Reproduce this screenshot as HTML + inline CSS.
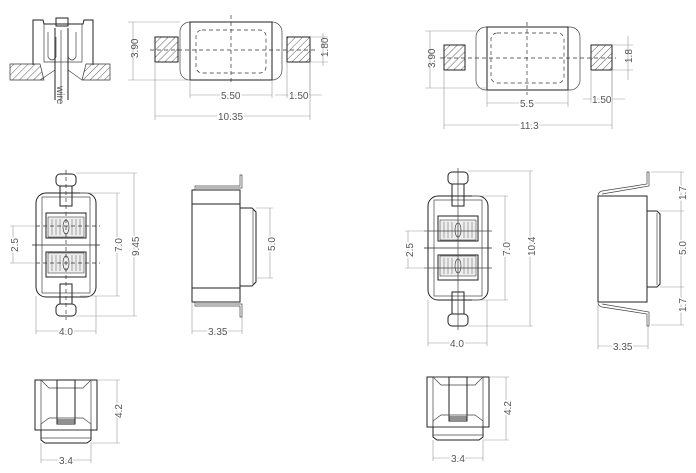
<!DOCTYPE html>
<html><head><meta charset="utf-8"><style>
html,body{margin:0;padding:0;background:#fff;}
svg{display:block}
text{font-family:"Liberation Sans",sans-serif;font-size:10px;fill:#555}
.o{fill:none;stroke:#222;stroke-width:1}
.t{fill:none;stroke:#444;stroke-width:.7}
.d{fill:none;stroke:#999;stroke-width:.6}
.c{fill:none;stroke:#333;stroke-width:.7;stroke-dasharray:4 3}
</style></head><body>
<svg width="696" height="473" viewBox="0 0 696 473" xmlns="http://www.w3.org/2000/svg">
<defs>
<pattern id="h" width="5" height="5" patternUnits="userSpaceOnUse" patternTransform="rotate(45)"><line x1="0" y1="0" x2="0" y2="5" stroke="#333" stroke-width=".8"/></pattern>
<g id="front">
 <rect x="0" y="0" width="62" height="50" class="o"/>
 <rect x="6" y="0" width="50" height="50" class="t"/>
 <path d="M6 0 L14 8 H48 L56 0" class="t"/>
 <rect x="22" y="0" width="18" height="42" class="o"/>
 <path d="M6 50 V44 L14 38 H48 L56 44 V50" class="t"/>
 <rect x="22" y="40" width="18" height="4" class="o"/>
 <path d="M6 50 V60 L10 63 H52 L56 60 V50" class="o"/>
 <line x1="6" y1="58" x2="56" y2="58" class="t"/>
</g>
<g id="mid">
 <rect x="0" y="0" width="60" height="104" rx="10" class="o"/>
 <rect x="6" y="4" width="48" height="96" class="t"/>
 <rect x="10" y="20" width="40" height="25" class="o"/>
 <rect x="12" y="24" width="36" height="20" fill="#eee" stroke="#444" stroke-width=".6"/>
 <rect x="10" y="59" width="40" height="25" class="o"/>
 <rect x="12" y="60" width="36" height="20" fill="#eee" stroke="#444" stroke-width=".6"/>
 <path d="M16 26v16M20 26v16M24 26v16M36 26v16M40 26v16M44 26v16M16 62v16M20 62v16M24 62v16M36 62v16M40 62v16M44 62v16" stroke="#555" stroke-width=".5"/>
 <ellipse cx="30" cy="34" rx="3" ry="7" class="t"/><ellipse cx="30" cy="70" rx="3" ry="7" class="t"/>
 <line x1="-4" y1="52" x2="64" y2="52" stroke="#222" stroke-width=".8"/>
</g>
</defs>

<!-- top-left cross section -->
<path d="M33 65 V20 H43 L44 24 H83 L84 20 H93 V65" class="o"/>
<path d="M44 24 V62 H82 V24" class="t"/>
<rect x="56" y="18" width="12" height="8" class="o"/>
<path d="M48 32 v25 q4 6 8 0 v-20 M68 37 v20 q4 6 8 0 v-25" class="t"/>
<path d="M10 64 H40 L44 80 H10 Z" fill="url(#h)" stroke="#333" stroke-width=".7"/>
<path d="M86 64 H110 V80 H82 Z" fill="url(#h)" stroke="#333" stroke-width=".7"/>
<path d="M40 80 L55 70 M82 80 L68 70" class="t"/>
<path d="M55 28 V100 M68 28 V100" class="o"/><line x1="61" y1="30" x2="61" y2="100" class="t"/>
<text transform="translate(57,86) rotate(90)" font-size="8" fill="#333">wire</text>

<!-- top view 1 -->
<rect x="180" y="22" width="102" height="58" rx="10" class="t"/>
<rect x="190" y="22" width="82" height="58" class="o"/>
<rect x="196" y="30" width="70" height="43" rx="6" class="c"/>
<rect x="155" y="37" width="23" height="25" fill="url(#h)" stroke="#222"/>
<rect x="287" y="37" width="23" height="25" fill="url(#h)" stroke="#222"/>
<line x1="150" y1="50" x2="315" y2="50" class="c"/><line x1="231" y1="15" x2="231" y2="85" class="c"/>
<path d="M133 22V80M128 22H180M128 80H190" class="d"/><text transform="translate(138,58) rotate(-90)">3.90</text>
<path d="M323 33V66M310 37H328M310 62H328" class="d"/><text transform="translate(328,57) rotate(-90)">1.80</text>
<path d="M190 95H272M190 80V98M272 80V98" class="d"/><text x="221" y="99" fill="#fff" style="fill:#555;paint-order:stroke;stroke:#fff;stroke-width:3">5.50</text>
<path d="M275 95H322M287 62V98M310 62V98" class="d"/><text x="289" y="99" style="paint-order:stroke;stroke:#fff;stroke-width:3">1.50</text>
<path d="M155 116H310M155 62V120M310 62V120" class="d"/><text x="218" y="120" style="paint-order:stroke;stroke:#fff;stroke-width:3">10.35</text>

<!-- top view 2 -->
<rect x="476" y="27" width="104" height="63" rx="10" class="t"/>
<rect x="487" y="27" width="81" height="63" class="o"/>
<rect x="491" y="33" width="73" height="50" rx="6" class="c"/>
<rect x="444" y="45" width="21" height="25" fill="url(#h)" stroke="#222"/>
<rect x="591" y="45" width="21" height="25" fill="url(#h)" stroke="#222"/>
<line x1="440" y1="58" x2="616" y2="58" class="c"/><line x1="527" y1="22" x2="527" y2="95" class="c"/>
<path d="M430 31V88M425 31H480M425 88H487" class="d"/><text transform="translate(435,68) rotate(-90)">3.90</text>
<path d="M628 36V80M612 45H633M612 70H633" class="d"/><text transform="translate(632,63) rotate(-90)">1.8</text>
<path d="M487 103H568M487 90V107M568 90V107" class="d"/><text x="520" y="107" style="paint-order:stroke;stroke:#fff;stroke-width:3">5.5</text>
<path d="M583 99H625M591 70V103M612 70V103" class="d"/><text x="592" y="103" style="paint-order:stroke;stroke:#fff;stroke-width:3">1.50</text>
<path d="M444 125H612M444 70V129M612 70V129" class="d"/><text x="520" y="129" style="paint-order:stroke;stroke:#fff;stroke-width:3">11.3</text>

<!-- middle left -->
<use href="#mid" x="36" y="193"/>
<rect x="56" y="174" width="20" height="12" rx="4" class="o"/><rect x="60" y="186" width="12" height="20" class="o"/>
<rect x="56" y="304" width="20" height="12" rx="4" class="o"/><rect x="60" y="284" width="12" height="20" class="o"/>
<line x1="66" y1="170" x2="66" y2="320" class="c"/>
<line x1="36" y1="226" x2="100" y2="226" class="c"/><line x1="36" y1="263" x2="100" y2="263" class="c"/>
<path d="M13 226V263M10 226H36M10 263H36" class="d"/><text transform="translate(18,252) rotate(-90)" style="paint-order:stroke;stroke:#fff;stroke-width:3">2.5</text>
<path d="M117 193V296M80 193H120M80 296H120" class="d"/><text transform="translate(122,252) rotate(-90)" style="paint-order:stroke;stroke:#fff;stroke-width:3">7.0</text>
<path d="M134 173V316M76 173H137M76 316H137" class="d"/><text transform="translate(139,256) rotate(-90)" style="paint-order:stroke;stroke:#fff;stroke-width:3">9.45</text>
<path d="M36 331H96M36 296V334M96 296V334" class="d"/><text x="59" y="335" style="paint-order:stroke;stroke:#fff;stroke-width:3">4.0</text>

<!-- side 1 -->
<rect x="192" y="190" width="48" height="112" class="o"/>
<path d="M192 204H240M192 288H240" class="o"/>
<path d="M240 208H252L256 212V282L252 286H240" class="o"/><line x1="253" y1="210" x2="253" y2="284" class="t"/>
<path d="M195 190V186H240V175H242V188H196" class="t"/>
<path d="M195 302V306H240V317H242V304H196" class="t"/>
<path d="M270 208V278M256 208H273M256 278H273" class="d"/><text transform="translate(275,251) rotate(-90)" style="paint-order:stroke;stroke:#fff;stroke-width:3">5.0</text>
<path d="M192 331H242M192 302V334M242 317V334" class="d"/><text x="208" y="335" style="paint-order:stroke;stroke:#fff;stroke-width:3">3.35</text>

<!-- middle right -->
<use href="#mid" x="428" y="196"/>
<rect x="448" y="172" width="20" height="12" rx="4" class="o"/><rect x="452" y="184" width="12" height="22" class="o"/>
<rect x="448" y="314" width="20" height="12" rx="4" class="o"/><rect x="452" y="292" width="12" height="22" class="o"/>
<line x1="458" y1="168" x2="458" y2="330" class="t"/>
<line x1="424" y1="231" x2="492" y2="231" class="t"/><line x1="424" y1="268" x2="492" y2="268" class="t"/>
<path d="M408 231V268M405 231H428M405 268H428" class="d"/><text transform="translate(413,257) rotate(-90)" style="paint-order:stroke;stroke:#fff;stroke-width:3">2.5</text>
<path d="M505 196V300M472 196H508M472 300H508" class="d"/><text transform="translate(510,256) rotate(-90)" style="paint-order:stroke;stroke:#fff;stroke-width:3">7.0</text>
<path d="M530 171V326M468 171H533M468 326H533" class="d"/><text transform="translate(535,256) rotate(-90)" style="paint-order:stroke;stroke:#fff;stroke-width:3">10.4</text>
<path d="M428 343H487M428 300V346M487 300V346" class="d"/><text x="450" y="347" style="paint-order:stroke;stroke:#fff;stroke-width:3">4.0</text>

<!-- side 2 -->
<rect x="598" y="196" width="49" height="106" class="o"/>
<path d="M647 211H657L660 214V284L657 287H647" class="o"/><line x1="657" y1="213" x2="657" y2="285" class="t"/>
<path d="M598 196Q598 192 602 191L647 184V172H649V186L602 194" class="t"/>
<path d="M598 302Q598 306 602 307L647 314V326H649V312L602 304" class="t"/>
<path d="M681 172V325M651 172H684M660 211H684M660 287H684M651 325H684" class="d"/>
<text transform="translate(686,200) rotate(-90)" style="paint-order:stroke;stroke:#fff;stroke-width:3">1.7</text>
<text transform="translate(686,255) rotate(-90)" style="paint-order:stroke;stroke:#fff;stroke-width:3">5.0</text>
<text transform="translate(686,312) rotate(-90)" style="paint-order:stroke;stroke:#fff;stroke-width:3">1.7</text>
<path d="M598 346H648M598 302V349M648 326V349" class="d"/><text x="613" y="350" style="paint-order:stroke;stroke:#fff;stroke-width:3">3.35</text>

<!-- bottom fronts -->
<use href="#front" x="35" y="380"/>
<path d="M117 380V443M97 380H120M91 443H120" class="d"/><text transform="translate(122,418) rotate(-90)" style="paint-order:stroke;stroke:#fff;stroke-width:3">4.2</text>
<path d="M41 460H91M41 443V463M91 443V463" class="d"/><text x="59" y="464" style="paint-order:stroke;stroke:#fff;stroke-width:3">3.4</text>
<use href="#front" x="427" y="377"/>
<path d="M506 377V440M489 377H509M483 440H509" class="d"/><text transform="translate(511,415) rotate(-90)" style="paint-order:stroke;stroke:#fff;stroke-width:3">4.2</text>
<path d="M433 458H483M433 440V461M483 440V461" class="d"/><text x="451" y="462" style="paint-order:stroke;stroke:#fff;stroke-width:3">3.4</text>
</svg>
</body></html>
